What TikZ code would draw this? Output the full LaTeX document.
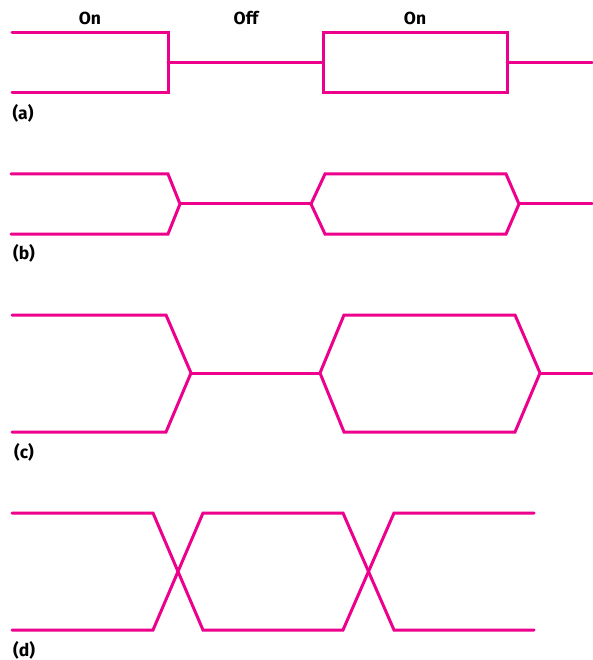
\documentclass[tikz,border=0pt]{standalone}
\usepackage{fontspec}
\setmainfont{Fira Sans}
\usetikzlibrary{positioning}
\definecolor{sigpink}{RGB}{236,0,140}

\begin{document}
\begin{tikzpicture}[x=1pt, y=-1pt, sig/.style={draw=sigpink, line width=3pt, line cap=round, line join=miter}, lbl/.style={inner sep=0pt, font=\fontsize{17.5}{20}\selectfont\bfseries}]
        % Fix the page to the size of the reference
        \useasboundingbox (0,0) rectangle (592,660);

        % Headings above the first trace
        \node[lbl] (on1) at (90,18) {On};
        \node[lbl] (off) at (246,18) {Off};
        \node[lbl] (on2) at (415,18) {On};

        % (a) hard edges
        \draw[sig] (12,33) -- (168,33) -- (168,93) -- (12,93);
        \draw[sig] (168,63) -- (323,63);
        \draw[sig] (323,33) rectangle (507,93);
        \draw[sig] (507,63) -- (592,63);
        \node[lbl] (capa) at (23,113) {(a)};

        % (b) short slopes
        \draw[sig] (11,174) -- (168,174) -- (180,204) -- (168,234) -- (11,234);
        \draw[sig] (180,204) -- (311,204);
        \draw[sig] (311,204) -- (325,174) -- (506,174) -- (519,204) -- (506,234) -- (325,234) -- cycle;
        \draw[sig] (519,204) -- (592,204);
        \node[lbl] (capb) at (24,253) {(b)};

        % (c) long slopes
        \draw[sig] (12,315) -- (166,315) -- (191,373) -- (166,432) -- (12,432);
        \draw[sig] (191,373) -- (320,373);
        \draw[sig] (320,373) -- (344,315) -- (515,315) -- (540,373) -- (515,432) -- (344,432) -- cycle;
        \draw[sig] (540,373) -- (592,373);
        \node[lbl] (capc) at (24,452) {(c)};

        % (d) crossing traces
        \draw[sig] (12,513) -- (153,513) -- (203,630) -- (343,630) -- (394,513) -- (534,513);
        \draw[sig] (12,630) -- (153,630) -- (203,513) -- (343,513) -- (394,630) -- (534,630);
        \node[lbl] (capd) at (24,650) {(d)};
      \end{tikzpicture}
\end{document}
